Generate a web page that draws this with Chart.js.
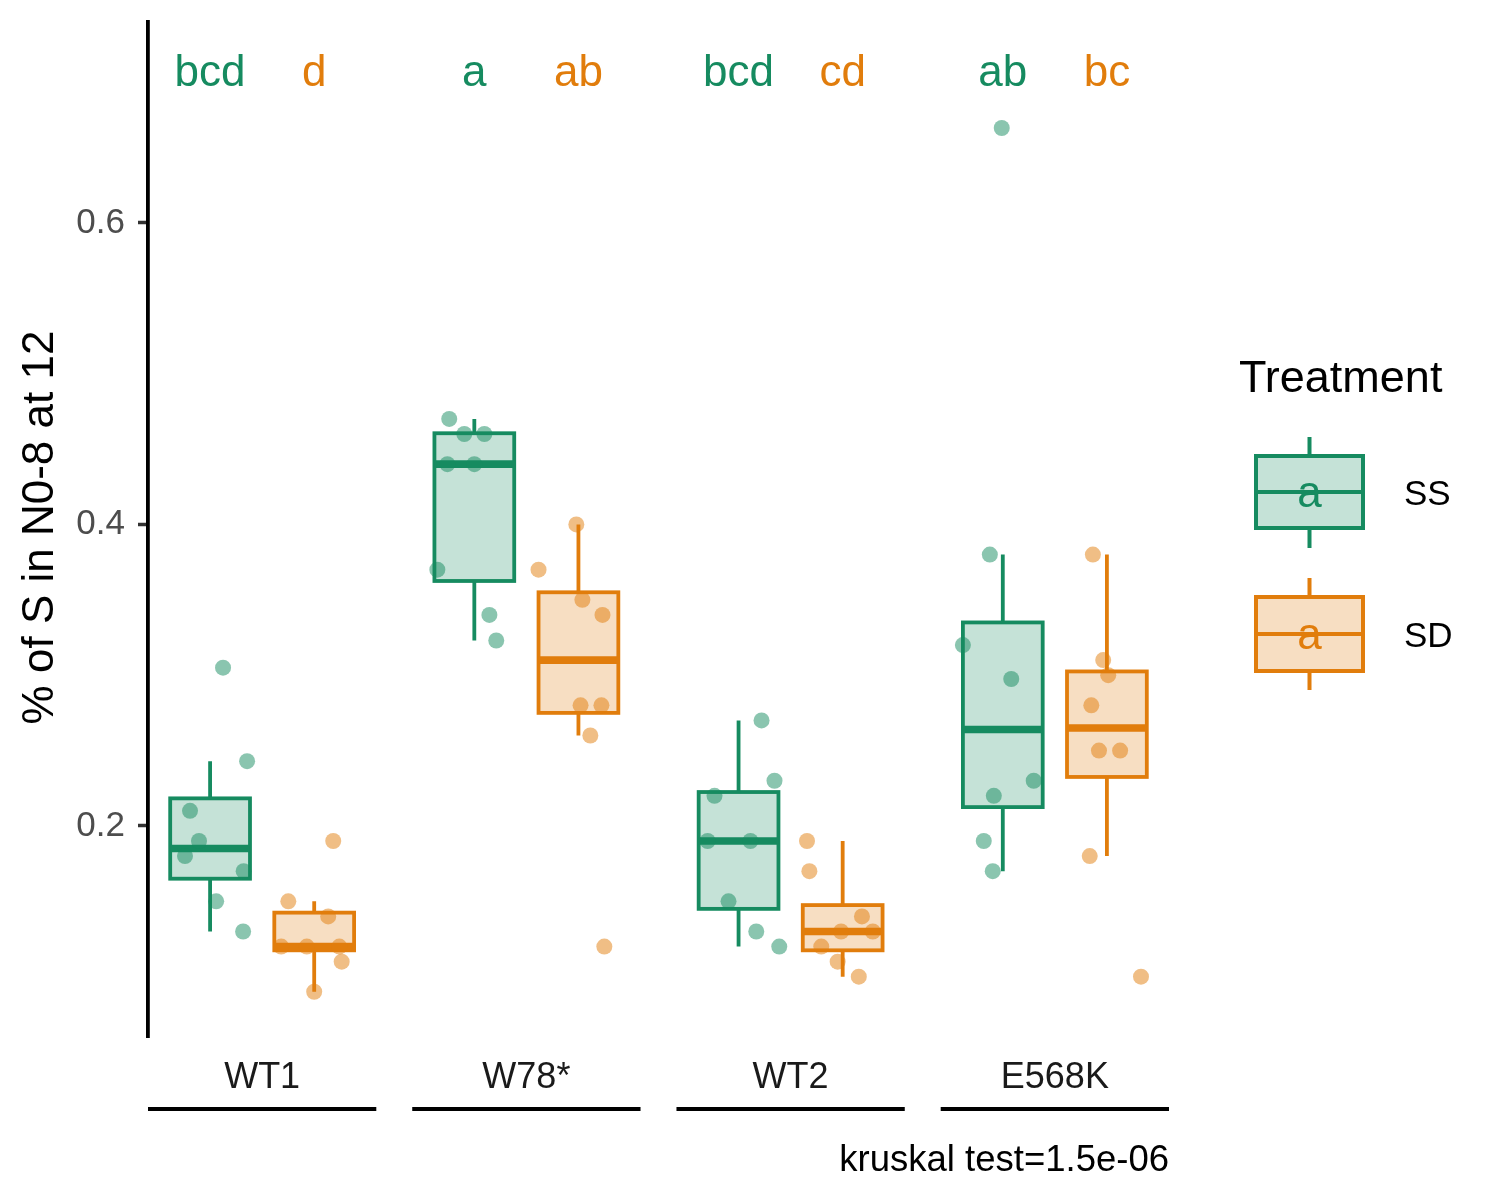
<!DOCTYPE html>
<html><head><meta charset="utf-8">
<script src="https://cdn.jsdelivr.net/npm/chart.js@4.4.0/dist/chart.umd.min.js"></script>
<style>html,body{margin:0;padding:0;background:#fff}canvas{display:block}</style>
</head><body>
<canvas id="c" width="1500" height="1200"></canvas>
<script>
// ---------- data ----------
const groups = ['WT1', 'W78*', 'WT2', 'E568K'];
const treatments = ['SS', 'SD'];
const yTicks = [0.2, 0.4, 0.6];

// box statistics per group (whisker low, Q1, median, Q3, whisker high)
const ssWhiskerLow  = [0.130, 0.323, 0.120, 0.170];
const ssQ1          = [0.165, 0.3625, 0.145, 0.2125];
const ssMedian      = [0.185, 0.440, 0.190, 0.264];
const ssQ3          = [0.2183, 0.4605, 0.2225, 0.335];
const ssWhiskerHigh = [0.243, 0.470, 0.270, 0.380];

const sdWhiskerLow  = [0.090, 0.260, 0.100, 0.180];
const sdQ1          = [0.1175, 0.275, 0.1175, 0.2325];
const sdMedian      = [0.120, 0.310, 0.130, 0.265];
const sdQ3          = [0.1425, 0.355, 0.1475, 0.3025];
const sdWhiskerHigh = [0.150, 0.400, 0.190, 0.380];

// individual observations per group
const ssValues = [
  [0.305, 0.243, 0.210, 0.190, 0.180, 0.170, 0.150, 0.130],
  [0.470, 0.460, 0.460, 0.440, 0.440, 0.370, 0.340, 0.323],
  [0.270, 0.230, 0.220, 0.190, 0.190, 0.150, 0.130, 0.120],
  [0.663, 0.380, 0.320, 0.2975, 0.220, 0.230, 0.190, 0.170]
];
const sdValues = [
  [0.150, 0.140, 0.190, 0.120, 0.120, 0.120, 0.110, 0.090],
  [0.400, 0.370, 0.350, 0.340, 0.280, 0.280, 0.260, 0.120],
  [0.190, 0.170, 0.140, 0.130, 0.130, 0.120, 0.110, 0.100],
  [0.380, 0.310, 0.300, 0.280, 0.250, 0.250, 0.180, 0.100]
];
// horizontal jitter of each observation (category units, as read)
const ssJitter = [
  [0.049, 0.140, -0.076, -0.042, -0.095, 0.127, 0.023, 0.125],
  [-0.095, -0.038, 0.038, -0.102, 0.000, -0.140, 0.057, 0.083],
  [0.087, 0.136, -0.091, -0.117, 0.045, -0.038, 0.067, 0.154],
  [-0.004, -0.049, -0.151, 0.032, -0.034, 0.117, -0.072, -0.038]
];
const sdJitter = [
  [-0.098, 0.053, 0.072, -0.125, -0.028, 0.095, 0.104, 0.000],
  [-0.008, -0.151, 0.015, 0.091, 0.008, 0.087, 0.045, 0.098],
  [-0.135, -0.126, 0.073, -0.006, 0.114, -0.081, -0.019, 0.061],
  [-0.053, -0.014, 0.005, -0.059, -0.030, 0.050, -0.065, 0.129]
];

const ssLetters = ['bcd', 'a', 'bcd', 'ab'];
const sdLetters = ['d', 'ab', 'cd', 'bc'];
const letterY = 0.70;
const kruskalText = 'kruskal test=1.5e-06';
const yTitle = '% of S in N0-8 at 12';
const legendTitle = 'Treatment';

// ---------- styling ----------
const FONT = '"Liberation Sans", Arial, Helvetica, sans-serif';
const GREEN = '#168B60';
const ORANGE = '#E17D0C';
const DODGE = 0.197, HALF_W = 0.151, PANEL_HALF = 0.432;

function rgba(hex, a) {
  const n = parseInt(hex.slice(1), 16);
  return `rgba(${(n >> 16) & 255},${(n >> 8) & 255},${n & 255},${a})`;
}

const series = [
  { name: treatments[0], color: GREEN, lo: ssWhiskerLow, q1: ssQ1, med: ssMedian, q3: ssQ3, hi: ssWhiskerHigh,
    values: ssValues, jitter: ssJitter, letters: ssLetters, off: -DODGE },
  { name: treatments[1], color: ORANGE, lo: sdWhiskerLow, q1: sdQ1, med: sdMedian, q3: sdQ3, hi: sdWhiskerHigh,
    values: sdValues, jitter: sdJitter, letters: sdLetters, off: DODGE }
];

const datasets = series.map(s => {
  const pts = [];
  s.values.forEach((arr, gi) => arr.forEach((v, k) => pts.push({ x: gi + s.off + s.jitter[gi][k], y: v })));
  return {
    label: s.name, data: pts, type: 'scatter',
    pointRadius: 8, pointHoverRadius: 8, pointBorderWidth: 0,
    backgroundColor: rgba(s.color, 0.5), borderColor: rgba(s.color, 0.5)
  };
});

function drawKey(ctx, color, top, bottom, wTop, wBot, cx, l, r) {
  const med = (top + bottom) / 2;
  ctx.save();
  ctx.strokeStyle = color; ctx.lineWidth = 4;
  ctx.beginPath(); ctx.moveTo(cx, wTop); ctx.lineTo(cx, top); ctx.moveTo(cx, bottom); ctx.lineTo(cx, wBot); ctx.stroke();
  ctx.fillStyle = rgba(color, 0.25);
  ctx.fillRect(l, top, r - l, bottom - top);
  ctx.strokeRect(l, top, r - l, bottom - top);
  ctx.beginPath(); ctx.moveTo(l, med); ctx.lineTo(r, med); ctx.stroke();
  ctx.fillStyle = color; ctx.font = `44px ${FONT}`; ctx.textAlign = 'center'; ctx.textBaseline = 'middle';
  ctx.fillText('a', cx, med + 3);
  ctx.restore();
}

const boxPlugin = {
  id: 'boxes',
  beforeDatasetsDraw(chart) {
    const { ctx, scales: { x, y } } = chart;
    series.forEach(s => {
      groups.forEach((g, i) => {
        const cx = x.getPixelForValue(i + s.off);
        const l = x.getPixelForValue(i + s.off - HALF_W);
        const r = x.getPixelForValue(i + s.off + HALF_W);
        const yq1 = y.getPixelForValue(s.q1[i]), yq3 = y.getPixelForValue(s.q3[i]);
        const ymed = y.getPixelForValue(s.med[i]);
        const ylo = y.getPixelForValue(s.lo[i]), yhi = y.getPixelForValue(s.hi[i]);
        ctx.save();
        ctx.strokeStyle = s.color; ctx.lineWidth = 3.8; ctx.lineCap = 'butt';
        ctx.beginPath(); ctx.moveTo(cx, yhi); ctx.lineTo(cx, yq3); ctx.moveTo(cx, yq1); ctx.lineTo(cx, ylo); ctx.stroke();
        ctx.fillStyle = rgba(s.color, 0.25);
        ctx.fillRect(l, yq3, r - l, yq1 - yq3);
        ctx.strokeRect(l, yq3, r - l, yq1 - yq3);
        ctx.lineWidth = 7.6;
        ctx.beginPath(); ctx.moveTo(l, ymed); ctx.lineTo(r, ymed); ctx.stroke();
        ctx.restore();
      });
    });
  },
  afterDatasetsDraw(chart) {
    const { ctx, scales: { x, y }, chartArea } = chart;
    ctx.save();
    // significance letters
    ctx.font = `44px ${FONT}`; ctx.textAlign = 'center'; ctx.textBaseline = 'middle';
    series.forEach(s => {
      ctx.fillStyle = s.color;
      groups.forEach((g, i) => ctx.fillText(s.letters[i], x.getPixelForValue(i + s.off), y.getPixelForValue(letterY) + 2));
    });
    // group labels and strip lines
    ctx.fillStyle = '#1A1A1A'; ctx.font = `36px ${FONT}`;
    groups.forEach((g, i) => {
      ctx.fillText(g, x.getPixelForValue(i), chartArea.bottom + 41);
      ctx.strokeStyle = '#000'; ctx.lineWidth = 4;
      ctx.beginPath();
      ctx.moveTo(x.getPixelForValue(i - PANEL_HALF), chartArea.bottom + 72);
      ctx.lineTo(x.getPixelForValue(i + PANEL_HALF), chartArea.bottom + 72);
      ctx.stroke();
    });
    // kruskal caption
    ctx.fillStyle = '#000'; ctx.textAlign = 'right'; ctx.font = `36.5px ${FONT}`;
    ctx.fillText(kruskalText, chartArea.right, chartArea.bottom + 124);
    // y title
    ctx.save();
    ctx.translate(41, (chartArea.top + chartArea.bottom) / 2 - 2);
    ctx.rotate(-Math.PI / 2);
    ctx.textAlign = 'center'; ctx.font = `44px ${FONT}`; ctx.fillStyle = '#000';
    ctx.fillText(yTitle, 0, 0);
    ctx.restore();
    // legend
    ctx.textAlign = 'left'; ctx.font = `45px ${FONT}`; ctx.fillStyle = '#000';
    ctx.fillText(legendTitle, 1239, 380);
    drawKey(ctx, series[0].color, 456, 528, 437, 548, 1309.5, 1256, 1363);
    drawKey(ctx, series[1].color, 597, 671, 578, 690, 1309.5, 1256, 1363);
    ctx.fillStyle = '#000'; ctx.font = `35px ${FONT}`; ctx.textAlign = 'left';
    ctx.fillText(series[0].name, 1404, 495);
    ctx.fillText(series[1].name, 1404, 637);
    ctx.restore();
  }
};

new Chart(document.getElementById('c'), {
  type: 'scatter',
  data: { datasets },
  options: {
    responsive: false, animation: false, devicePixelRatio: 1,
    layout: { padding: { top: 22, bottom: 163, right: 331, left: 0 } },
    plugins: { legend: { display: false }, tooltip: { enabled: false } },
    scales: {
      x: { type: 'linear', min: -PANEL_HALF, max: groups.length - 1 + PANEL_HALF, display: false },
      y: {
        type: 'linear', min: 0.06, max: 0.7333,
        afterBuildTicks: sc => { sc.ticks = yTicks.map(v => ({ value: v })); },
        afterFit: sc => { sc.width = 148; sc.paddingTop = 0; sc.paddingBottom = 0; },
        ticks: { color: '#4D4D4D', font: { family: FONT, size: 35 }, padding: 13,
                 callback: v => v.toFixed(1) },
        grid: { drawOnChartArea: false, drawTicks: true, tickLength: 10, tickColor: '#333333', tickWidth: 3.5 },
        border: { display: true, color: '#000', width: 3.8 }
      }
    }
  },
  plugins: [boxPlugin]
});
</script>
</body></html>
